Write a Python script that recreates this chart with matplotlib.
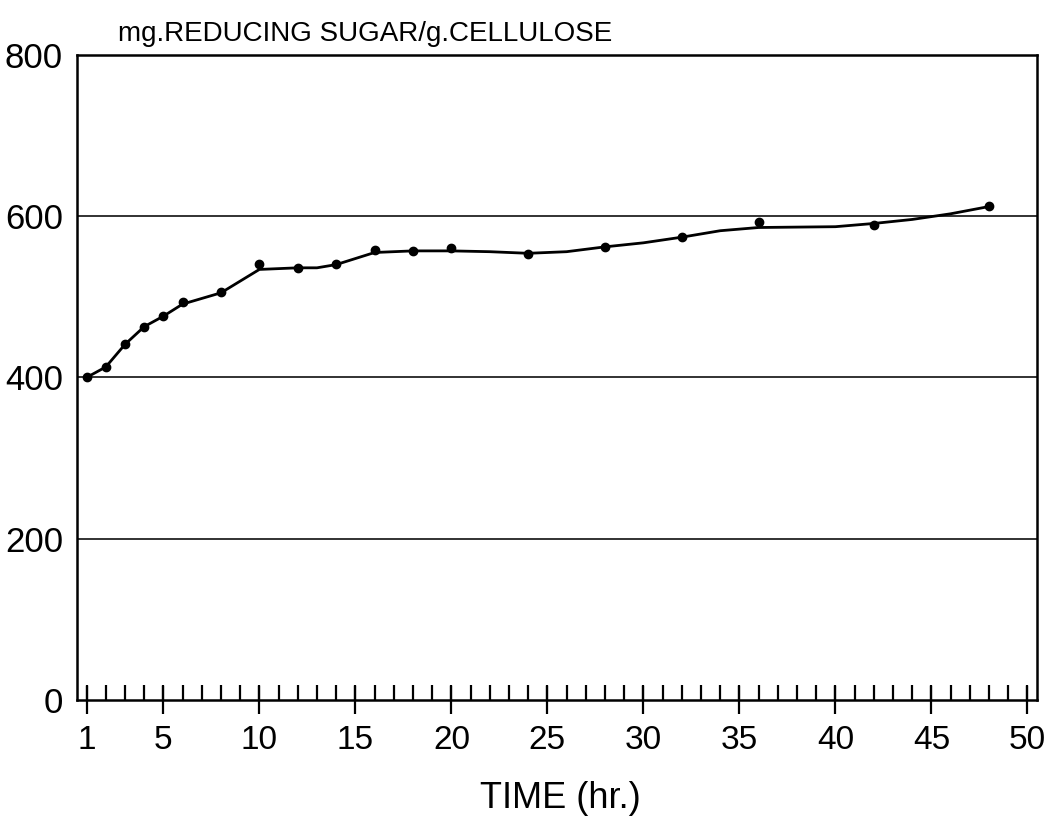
import numpy as np
import matplotlib
matplotlib.use('Agg')
from matplotlib import pyplot as plt
from matplotlib.ticker import FixedLocator

# measured reducing sugar yield (mg/g cellulose) vs hydrolysis time
hours = [1, 2, 3, 4, 5, 6, 8, 10, 12, 14, 16, 18, 20, 24, 28, 32, 36, 42, 48]
sugar = [400, 413, 441, 463, 476, 494, 506, 541, 536, 541, 558, 557, 560,
         553, 562, 574, 593, 589, 613]

# hand-fitted trend curve drawn through the measurements
curve_hours = [1, 2, 3, 4, 5, 6, 8, 10, 12, 13, 14, 16, 18, 20, 22, 24, 26,
               28, 30, 32, 34, 36, 40, 42, 44, 46, 48]
curve_sugar = [400, 413, 441, 463, 476, 491, 505, 534, 536, 536, 540, 555,
               557, 557, 556, 554, 556, 562, 567, 574, 582, 586, 587, 591,
               596, 603, 612]

x_major = [1, 5, 10, 15, 20, 25, 30, 35, 40, 45, 50]
y_ticks = [0, 200, 400, 600, 800]

plt.rcParams['font.family'] = ['Liberation Sans', 'DejaVu Sans']

fig = plt.figure(figsize=(10.53, 8.18), dpi=100)
ax = fig.add_axes([0.0731, 0.1443, 0.9117, 0.7885])

for g in [200, 400, 600]:
    ax.axhline(g, color='#222222', lw=1.3, zorder=1)

ax.plot(curve_hours, curve_sugar, color='black', lw=2.0, zorder=3,
        solid_joinstyle='round')
ax.plot(hours, sugar, 'o', color='black', ms=6, zorder=4)

ax.set_xlim(0.5, 50.5)
ax.set_ylim(0, 800)

ax.xaxis.remove_overlapping_locs = False
ax.xaxis.set_major_locator(FixedLocator(x_major))
ax.xaxis.set_minor_locator(FixedLocator(np.arange(1, 51)))
ax.set_xticklabels([str(v) for v in x_major])
ax.set_yticks(y_ticks)
ax.set_yticklabels([str(v) for v in y_ticks])

ax.tick_params(axis='x', which='major', direction='inout', length=20,
               width=1.6, labelsize=24, pad=8)
ax.tick_params(axis='x', which='minor', direction='in', length=11, width=1.6)
ax.tick_params(axis='y', length=0, labelsize=25, pad=10)

for s in ax.spines.values():
    s.set_linewidth(1.8)

fig.text(0.112, 0.95, 'mg.REDUCING SUGAR/g.CELLULOSE', fontsize=20,
         ha='left', va='baseline')
fig.text(0.532, 0.012, 'TIME (hr.)', fontsize=26, ha='center',
         va='baseline')

fig.savefig('out.png', dpi=100)
